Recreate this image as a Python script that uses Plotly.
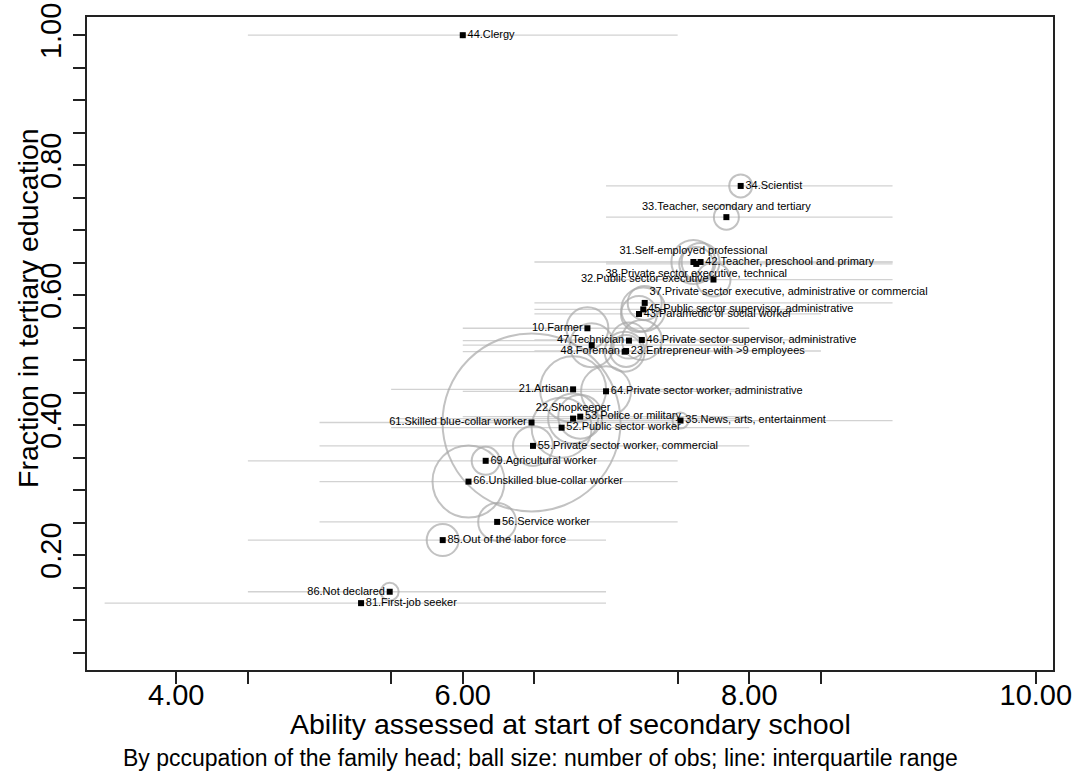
import plotly.graph_objects as go

# ---------------- data ----------------
labels = [
    "44.Clergy", "34.Scientist", "33.Teacher, secondary and tertiary",
    "31.Self-employed professional", "42.Teacher, preschool and primary",
    "38.Private sector executive, technical", "32.Public sector executive",
    "37.Private sector executive, administrative or commercial",
    "45.Public sector supervisor, administrative", "43.Paramedic or social worker",
    "10.Farmer", "47.Technician", "46.Private sector supervisor, administrative",
    "48.Foreman", "23.Entrepreneur with >9 employees", "21.Artisan",
    "64.Private sector worker, administrative", "22.Shopkeeper",
    "53.Police or military", "35.News, arts, entertainment",
    "61.Skilled blue-collar worker", "52.Public sector worker",
    "55.Private sector worker, commercial", "69.Agricultural worker",
    "66.Unskilled blue-collar worker", "56.Service worker",
    "85.Out of the labor force", "86.Not declared", "81.First-job seeker",
    "",
]
ability_mean = [6.00, 7.94, 7.84, 7.61, 7.66, 7.63, 7.75, 7.27, 7.26, 7.23,
                6.87, 7.16, 7.25, 7.13, 7.14, 6.77, 7.00, 6.77, 6.82, 7.52,
                6.48, 6.69, 6.49, 6.16, 6.04, 6.24, 5.86, 5.49, 5.29,
                6.90]
frac_tertiary = [1.000, 0.768, 0.720, 0.651, 0.651, 0.648, 0.624, 0.588, 0.578, 0.571,
                 0.549, 0.530, 0.531, 0.513, 0.514, 0.455, 0.452, 0.410, 0.413, 0.407,
                 0.404, 0.396, 0.368, 0.345, 0.313, 0.251, 0.223, 0.1435, 0.126,
                 0.523]
ability_q25 = [4.5, 7.0, 7.0, 7.0, 6.5, 7.0, 7.0, 6.5, 6.5, 6.5,
               6.0, 6.0, 6.5, 6.0, 6.5, 5.5, 6.0, 5.5, 6.0, 6.0,
               5.0, 5.5, 5.0, 4.5, 5.0, 5.0, 4.5, 4.5, 3.5,
               6.0]
ability_q75 = [7.5, 9.0, 9.0, 9.0, 9.0, 9.0, 9.0, 9.0, 8.5, 8.5,
               8.0, 8.0, 8.5, 8.0, 8.5, 8.0, 8.0, 8.0, 8.0, 9.0,
               7.5, 8.0, 8.0, 7.5, 7.5, 7.5, 7.0, 7.0, 7.0,
               8.0]
n_obs = [20, 660, 780, 2420, 1800, 1450, 1450, 1450, 2420, 1620,
         2200, 1620, 2000, 2000, 1280, 5450, 3120, 3120, 2420, 320,
         39600, 4500, 2000, 980, 6480, 1800, 1280, 400, 20,
         2420]
label_pos = ["middle right", "middle right", "top center", "top center", "middle right",
             "bottom center", "middle left", "top right", "middle right", "middle right",
             "middle left", "middle left", "middle right", "middle left", "middle right",
             "middle left", "middle right", "top center", "middle right", "middle right",
             "middle left", "middle right", "middle right", "middle right", "middle right",
             "middle right", "middle right", "middle left", "middle right",
             "middle right"]

x_ticks = [4.0, 4.5, 5.5, 6.0, 6.5, 7.5, 8.0, 8.5, 10.0]
x_ticktext = ["4.00", "", "", "6.00", "", "", "8.00", "", "10.00"]
y_ticks = [round(0.05 * i, 2) for i in range(1, 21)]
y_ticktext = [("%.2f" % v) if round(v * 100) % 20 == 0 else "" for v in y_ticks]

FONT = "Liberation Sans, Arial, sans-serif"

# ---------------- figure ----------------
fig = go.Figure()

lx, ly = [], []
for a, b, yv in zip(ability_q25, ability_q75, frac_tertiary):
    lx += [a, b, None]
    ly += [yv, yv, None]
fig.add_trace(go.Scatter(x=lx, y=ly, mode="lines",
                         line=dict(color="#d2d2d2", width=1.3),
                         hoverinfo="skip", showlegend=False))

fig.add_trace(go.Scatter(x=ability_mean, y=frac_tertiary, mode="markers",
                         marker=dict(symbol="circle-open", size=n_obs, sizemode="area",
                                     sizeref=2.5, color="#a8a8a8",
                                     line=dict(width=2, color="#a8a8a8")),
                         hoverinfo="skip", showlegend=False))

fig.add_trace(go.Scatter(x=ability_mean, y=frac_tertiary, mode="markers+text",
                         marker=dict(symbol="square", size=6, color="black"),
                         text=labels, textposition=label_pos,
                         textfont=dict(family=FONT, size=11, color="black"),
                         showlegend=False))

axis_common = dict(ticks="outside", ticklen=12, tickwidth=2, tickcolor="#222",
                   showline=True, linecolor="#222", linewidth=2, mirror=True,
                   showgrid=False, zeroline=False, automargin=False,
                   tickfont=dict(family=FONT, size=29, color="black"))

fig.update_layout(
    width=1079, height=784,
    margin=dict(l=87, r=26, t=17, b=114, pad=0),
    paper_bgcolor="white", plot_bgcolor="white",
    font=dict(family=FONT, color="black"),
    xaxis=dict(range=[3.377, 10.12], tickvals=x_ticks, ticktext=x_ticktext,
               ticklabelstandoff=-14, **axis_common),
    yaxis=dict(range=[0.0231, 1.028], tickvals=y_ticks, ticktext=y_ticktext,
               tickangle=-90, **axis_common),
    annotations=[
        dict(text="Ability assessed at start of secondary school", xref="paper", yref="paper",
             x=(570 - 87) / 966, y=-(724 - 670) / 653, xanchor="center", yanchor="middle",
             showarrow=False, font=dict(family=FONT, size=28.5, color="black")),
        dict(text="Fraction in tertiary education", xref="paper", yref="paper",
             x=-(87 - 28) / 966, y=(670 - 308) / 653, xanchor="center", yanchor="middle",
             textangle=-90, showarrow=False, font=dict(family=FONT, size=28.5, color="black")),
        dict(text="By pccupation of the family head; ball size: number of obs; line: interquartile range",
             xref="paper", yref="paper", x=(540 - 87) / 966, y=-(758 - 670) / 653,
             xanchor="center", yanchor="middle",
             showarrow=False, font=dict(family=FONT, size=23, color="black")),
    ],
)

fig.write_html("out.html")
